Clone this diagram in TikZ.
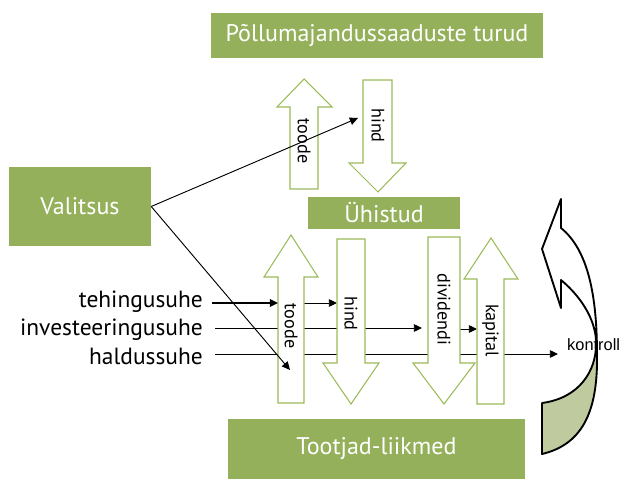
\documentclass[tikz,border=0pt]{standalone}
\usepackage{fontspec}
\setmainfont{PT Sans}
\newfontfamily\kontrollfont{Liberation Sans}
\usetikzlibrary{arrows.meta}

\definecolor{kastroheline}{HTML}{95B05A}
\definecolor{noolroheline}{HTML}{9BBB59}
\definecolor{kaarroheline}{HTML}{BFCB9F}

\tikzset{
  kast/.style={fill=kastroheline, text=white, inner sep=0pt, font=\fontsize{20.5}{24}\selectfont},
  plokk/.style={draw=noolroheline, fill=white, line width=0.9pt},
  silt/.style={font=\fontsize{15.5}{18}\selectfont, rotate=-90, inner sep=0pt},
  suhe/.style={font=\fontsize{20}{23}\selectfont, anchor=base east, inner sep=0pt},
  nool/.style={-{Triangle[length=7pt,width=6.5pt]}, line width=0.8pt}
}

\begin{document}
\begin{tikzpicture}[x=0.03cm, y=-0.03cm]
\useasboundingbox (0,0) rectangle (621,479);

% kastid
\node[kast, minimum width=9.96cm, minimum height=1.35cm] (turud) at (377,35.5) {Põllumajandussaaduste turud};
\node[kast, minimum width=4.26cm, minimum height=2.37cm] (valitsus) at (80,206.5) {Valitsus};
\node[kast, minimum width=4.56cm, minimum height=0.96cm] (uhistud) at (384,213) {Ühistud};
\node[kast, minimum width=8.91cm, minimum height=1.8cm] (tootjad) at (376.5,449) {Tootjad-liikmed};

% suhted
\node[suhe] (teh) at (203,307) {tehingusuhe};
\node[suhe] (inv) at (203,335.5) {investeeringusuhe};
\node[suhe] (hal) at (203,364.5) {haldussuhe};
\node[font=\kontrollfont\fontsize{14}{16}\selectfont, anchor=west, inner sep=0pt] (kontroll) at (567,345) {kontroll};

% otspunktid
\coordinate (toodeW) at (278,303);
\coordinate (toodeMid) at (291,303);
\coordinate (hindW) at (337,303);
\coordinate (divW) at (422,328);
\coordinate (divMid) at (444,329);
\coordinate (kapW) at (477,329);
\coordinate (halEnd) at (558,354);
\coordinate (hindTop) at (358,118);
\coordinate (toodeIn) at (290,370);

% jooned plokknoolte taga
\draw[nool] (toodeMid) -- (hindW);
\draw[nool] ([shift={(12,-7.5)}]inv.base east) -- (divW);
\draw[nool] (divMid) -- (kapW);
\draw[nool] ([shift={(12,-10.5)}]hal.base east) -- (halEnd);

% plokknooled
\draw[plokk] (290,189) -- (290,107) -- (277,107) -- (304,79) -- (332,107) -- (318,107) -- (318,189) -- cycle;
\draw[plokk] (363,80) -- (392,80) -- (392,163) -- (406,163) -- (378,192) -- (349,163) -- (363,163) -- cycle;
\draw[plokk] (278,403) -- (278,277) -- (264,277) -- (291,235) -- (318,277) -- (304,277) -- (304,403) -- cycle;
\draw[plokk] (337,239) -- (365,239) -- (365,363) -- (379,363) -- (351,404) -- (323,363) -- (337,363) -- cycle;
\draw[plokk] (428,237) -- (460,237) -- (460,363) -- (475,363) -- (444,404) -- (413,363) -- (428,363) -- cycle;
\draw[plokk] (477,404) -- (477,279) -- (464,279) -- (491,238) -- (518,279) -- (504,279) -- (504,404) -- cycle;

\node[silt] (toode1) at (304,141) {toode};
\node[silt] (hind1) at (378,125.5) {hind};
\node[silt] (toode2) at (291,326) {toode};
\node[silt] (hind2) at (351,313.5) {hind};
\node[silt] (dividendi) at (444,309.5) {dividendi};
\node[silt] (kapital) at (490.5,330.5) {kapital};

% pealmised jooned
\draw[nool, line width=1.4pt] ([shift={(9,-4)}]teh.base east) -- (toodeW);
\draw[nool] (valitsus.east) -- (hindTop);
\draw[nool] (valitsus.east) -- (toodeIn);

% kontrolli kaar
\fill[kaarroheline] (596,345) .. controls (596,370) and (580,398) .. (542,403) -- (542,454) .. controls (580,445) and (598,415) .. (597,355) -- cycle;
\draw[line width=1.6pt, line join=round] (561,199) -- (542,249) -- (561,308) -- (561,280)
  .. controls (585,300) and (597,325) .. (596,345)
  .. controls (596,370) and (580,398) .. (542,403) -- (542,454)
  .. controls (580,445) and (598,415) .. (597,355)
  .. controls (597,295) and (588,250) .. (561,228) -- cycle;
\end{tikzpicture}
\end{document}
